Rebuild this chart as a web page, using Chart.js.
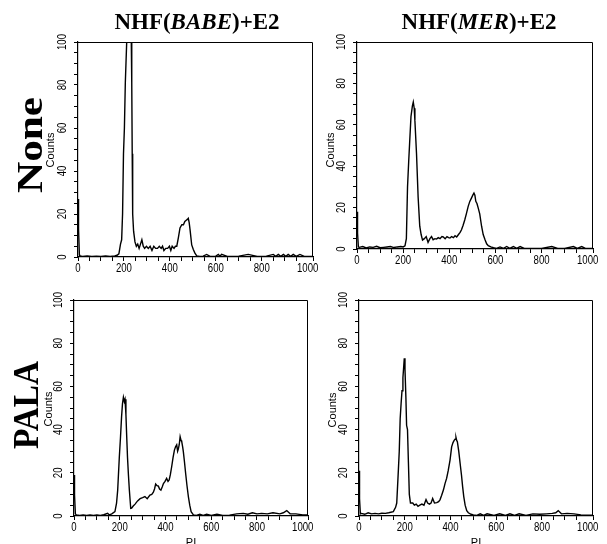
<!DOCTYPE html>
<html lang="en">

<head>
    <meta charset="UTF-8">
    <script src="https://cdn.jsdelivr.net/npm/chart.js"></script>
    <title>DNA content histograms</title>
    <style>
        body {
            margin: 0;
            background: #fff;
        }

        #figure {
            position: relative;
            width: 607px;
            height: 544px;
            overflow: hidden;
            background: #fff;
        }

        canvas {
            position: absolute;
        }

        /* chart area + 30px on the left, 10px on top, 8px on the right, 22px below */
        #chart_babe_none { left: 48px; top: 32px; }
        #chart_mer_none { left: 327px; top: 32px; }
        #chart_babe_pala { left: 44px; top: 290px; }
        #chart_mer_pala { left: 329px; top: 290px; }

        .title {
            position: absolute;
            top: 10px;
            font: bold 23px 'Liberation Serif', serif;
            line-height: 1;
            white-space: nowrap;
            transform: translateX(-50%);
        }

        .rotated {
            position: absolute;
            line-height: 1;
            white-space: nowrap;
        }

        .row_label {
            font: bold 36px 'Liberation Serif', serif;
        }

        .counts {
            font: 11px 'Liberation Sans', sans-serif;
        }

        .pi {
            position: absolute;
            top: 537px;
            font: 11px 'Liberation Sans', sans-serif;
            line-height: 1;
            transform: translateX(-50%);
        }
    </style>
</head>

<body>
    <div id="figure">
        <canvas id="chart_babe_none" width="273" height="247"></canvas>
        <canvas id="chart_mer_none" width="274" height="239"></canvas>
        <canvas id="chart_babe_pala" width="272" height="248"></canvas>
        <canvas id="chart_mer_pala" width="272" height="248"></canvas>

        <div class="title" style="left:197px">NHF(<i>BABE</i>)+E2</div>
        <div class="title" style="left:479px">NHF(<i>MER</i>)+E2</div>

        <div class="rotated row_label" style="left:30px;top:145px;transform:translate(-50%,-50%) rotate(-90deg) scaleX(1.2)">None</div>
        <div class="rotated row_label" style="left:27px;top:405px;font-size:35px;transform:translate(-50%,-50%) rotate(-90deg) scaleX(0.95)">PALA</div>

        <div class="rotated counts" style="left:50px;top:150px;transform:translate(-50%,-50%) rotate(-90deg)">Counts</div>
        <div class="rotated counts" style="left:330px;top:150px;transform:translate(-50%,-50%) rotate(-90deg)">Counts</div>
        <div class="rotated counts" style="left:48px;top:409px;transform:translate(-50%,-50%) rotate(-90deg)">Counts</div>
        <div class="rotated counts" style="left:332px;top:410px;transform:translate(-50%,-50%) rotate(-90deg)">Counts</div>

        <div class="pi" style="left:191px">PI</div>
        <div class="pi" style="left:476px">PI</div>
    </div>

    <script>
        // Tick labels shared by the four histograms
        const x_tick_labels = [0, 200, 400, 600, 800, 1000];
        const y_tick_labels = [0, 20, 40, 60, 80, 100];

        // NHF(BABE)+E2, no drug
        const babe_none_channels = [
            0, 1, 2, 4, 6, 8, 20, 40, 60, 80,
            100, 120, 140, 160, 170, 178, 185, 190, 194, 198,
            202, 206, 212, 218, 226, 232, 234, 236, 238, 242,
            248, 254, 260, 266, 272, 278, 284, 290, 298, 306,
            314, 322, 330, 338, 346, 354, 362, 368, 374, 382,
            390, 398, 404, 410, 418, 424, 430, 437, 444, 452,
            459, 465, 470, 476, 480, 484, 488, 495, 502, 509,
            517, 530, 545, 560, 575, 600, 611, 618, 625, 650,
            700, 741, 780, 820, 850, 861, 872, 883, 894, 905,
            915, 926, 937, 950, 966, 985, 1005, 1023];
        const babe_none_counts = [
            27, 13, 13, 13, 1, 0.5, 0.3, 0.5, 0.3, 0.4,
            0.3, 0.5, 0.3, 0.5, 0.8, 1.5, 6, 8, 20, 48,
            60, 81, 100, 110, 112, 100, 81, 48, 20, 12,
            7, 5, 6, 4, 6, 8, 5, 4, 5, 4,
            5, 3, 5, 4, 4, 5, 4, 5, 3, 4,
            4, 5, 3, 5, 4, 5, 5, 9, 13.5, 15,
            15, 16.5, 17, 17.5, 18, 16, 12.5, 5.6, 3.5, 1.8,
            0.5, 0.3, 0.4, 1.2, 0.3, 0.4, 1.2, 0.4, 1.2, 0.3,
            0.4, 1.2, 0.3, 0.4, 1.2, 0.3, 1.2, 0.3, 1.2, 0.3,
            1.2, 0.3, 1.2, 0.3, 1.2, 0.3, 0.3, 0.3];

        // NHF(MER)+E2, no drug
        const mer_none_channels = [
            0, 1, 2, 4, 6, 10, 25, 40, 55, 70,
            85, 100, 115, 130, 145, 160, 175, 190, 200, 208,
            214, 219, 224, 228, 234, 240, 244, 248, 251, 258,
            265, 272, 278, 284, 292, 300, 308, 316, 323, 330,
            338, 345, 352, 360, 368, 374, 382, 390, 397, 403,
            410, 418, 425, 432, 440, 447, 453, 460, 467, 474,
            482, 489, 496, 502, 507, 511, 515, 520, 525, 532,
            540, 547, 555, 562, 569, 580, 592, 605, 620, 635,
            649, 662, 678, 692, 707, 725, 760, 800, 844, 870,
            900, 938, 955, 974, 990, 1010, 1023];
        const mer_none_counts = [
            18, 7.7, 7.7, 7.7, 1, 0.8, 1.2, 0.5, 1, 0.8,
            1.3, 0.6, 0.8, 1, 1.2, 0.7, 1, 1.2, 1, 1.5,
            5, 30, 42, 51, 64, 69, 71, 68, 62, 46,
            25, 11, 7, 4.3, 5, 6, 3.2, 5, 6, 4.5,
            5, 4.8, 5.5, 5, 6, 5.8, 5, 6, 5.5, 5.3,
            6, 5.5, 6.4, 5.8, 7, 8, 9.3, 11.5, 14, 17,
            20.6, 23, 24.6, 26, 27, 26, 23, 22, 20, 17,
            11, 7, 4.5, 2.5, 1.6, 1, 0.6, 0.3, 1, 0.3,
            1.2, 0.3, 1.2, 0.3, 1.2, 0.3, 0.3, 0.3, 1.2, 0.3,
            0.3, 1.2, 0.3, 1.2, 0.3, 0.3, 0.3];

        // NHF(BABE)+E2, PALA
        const babe_pala_channels = [
            0, 1, 2, 4, 6, 10, 25, 40, 55, 70,
            85, 100, 115, 130, 147, 155, 165, 179, 186, 191,
            198, 203, 208, 212, 216, 220, 223, 227, 230, 234,
            238, 242, 248, 252, 258, 267, 278, 289, 300, 310,
            320, 332, 340, 347, 352, 357, 363, 369, 374, 380,
            386, 391, 398, 405, 411, 416, 421, 427, 433, 439,
            444, 449, 453, 456, 460, 464, 468, 471, 475, 478,
            483, 488, 494, 500, 506, 512, 522, 535, 550, 565,
            580, 600, 625, 650, 680, 711, 740, 760, 780, 800,
            820, 845, 870, 900, 915, 930, 945, 970, 1000, 1023];
        const babe_pala_counts = [
            19, 9.7, 9.7, 9.7, 1, 0.5, 0.3, 0.5, 0.3, 0.5,
            0.3, 0.5, 0.3, 0.6, 1.2, 0.5, 1, 2, 6, 12,
            27, 36, 46, 52, 55, 53, 54, 47, 38, 27,
            19, 12, 3.5, 3.6, 4.5, 5.5, 7, 8, 8.5, 9,
            8, 9.7, 10, 11, 12.5, 14.8, 14, 13.8, 12.5, 12,
            13.5, 15, 16, 17.4, 16, 16.7, 19, 22.8, 27, 30.5,
            32, 32.9, 30, 31, 33, 36.7, 35, 34.4, 32, 29.8,
            25, 19.8, 14, 9, 5, 2, 0.5, 0.3, 0.8, 0.3,
            0.8, 0.3, 0.8, 0.3, 0.4, 1, 1.2, 0.8, 1.5, 1,
            1.2, 1, 1.5, 1, 1.5, 2.5, 1, 1, 0.5, 0.5];

        // NHF(MER)+E2, PALA
        const mer_pala_channels = [
            0, 1, 2, 4, 6, 10, 25, 40, 55, 70,
            85, 100, 115, 130, 150, 160, 165, 172, 176, 180,
            184, 188, 192, 196, 198, 201, 205, 208, 212, 216,
            220, 225, 235, 242, 250, 258, 266, 275, 284, 293,
            300, 308, 315, 322, 330, 340, 348, 354, 361, 369,
            376, 383, 390, 398, 405, 411, 416, 420, 424, 427,
            430, 436, 442, 448, 453, 458, 464, 471, 478, 490,
            500, 515, 530, 545, 560, 590, 615, 640, 660, 680,
            700, 730, 760, 790, 820, 845, 860, 871, 885, 910,
            940, 970, 1000, 1023];
        const mer_pala_counts = [
            21, 8, 8, 8, 1, 1.2, 0.8, 1.5, 1, 1.2,
            1, 1.3, 1.2, 1.5, 2, 4, 6, 21, 30, 45,
            52, 58, 64, 70, 73, 68, 55, 42, 40, 25,
            10, 6, 6, 5, 5.5, 4.5, 5, 5.5, 5, 7.6,
            6, 5.5, 6, 8.1, 6, 6.2, 6.6, 7.5, 9.5, 12,
            15, 17.4, 21, 25.9, 32, 34, 35, 35.5, 36.4, 35,
            34.4, 30, 24.4, 19, 13.6, 9, 5, 2.5, 1.5, 0.8,
            0.5, 0.3, 1, 0.3, 1, 0.3, 1, 0.3, 1, 0.3,
            1, 0.3, 1, 0.8, 1, 1.2, 1.5, 2.5, 1, 1.2,
            1, 0.5, 0.4, 0.4];

        // Frame on top/right plus the narrow, rotated tick labels
        const frame_and_labels = {
            id: 'frame_and_labels',
            afterDraw(chart) {
                const ctx = chart.ctx;
                const area = chart.chartArea;
                const x_scale = chart.scales.x, y_scale = chart.scales.y;

                ctx.save();
                ctx.strokeStyle = '#000';
                ctx.lineWidth = 1;
                ctx.beginPath();
                ctx.moveTo(area.left, area.top + 0.5);
                ctx.lineTo(area.right - 0.5, area.top + 0.5);
                ctx.lineTo(area.right - 0.5, area.bottom);
                ctx.stroke();

                ctx.fillStyle = '#000';
                ctx.font = '13px "Liberation Sans", Arial, sans-serif';
                ctx.textAlign = 'center';
                ctx.textBaseline = 'middle';

                x_tick_labels.forEach(v => {
                    ctx.save();
                    ctx.translate(x_scale.getPixelForValue(v), area.bottom + 11.5);
                    ctx.scale(0.74, 1);
                    ctx.fillText(String(v), 0, 0);
                    ctx.restore();
                });

                y_tick_labels.forEach(v => {
                    ctx.save();
                    ctx.translate(area.left - 16, y_scale.getPixelForValue(v));
                    ctx.rotate(-Math.PI / 2);
                    ctx.scale(0.74, 1);
                    ctx.fillText(String(v), 0, 0);
                    ctx.restore();
                });
                ctx.restore();
            }
        };

        function make_histogram(canvas_id, channels, counts) {
            const points = channels.map((c, i) => ({ x: c, y: counts[i] }));
            const axis_grid = {
                display: true,
                drawOnChartArea: false,
                drawTicks: true,
                tickLength: 4,
                color: '#000',
                lineWidth: 1
            };
            return new Chart(document.getElementById(canvas_id), {
                type: 'line',
                data: {
                    datasets: [{
                        data: points,
                        borderColor: '#000',
                        borderWidth: 1.4,
                        pointRadius: 0,
                        tension: 0,
                        fill: false
                    }]
                },
                options: {
                    responsive: false,
                    animation: false,
                    devicePixelRatio: 1,
                    layout: { padding: { top: 10, right: 8, left: 0, bottom: 0 } },
                    plugins: { legend: { display: false }, tooltip: { enabled: false } },
                    scales: {
                        x: {
                            type: 'linear',
                            min: 0,
                            max: 1023,
                            ticks: { display: false, stepSize: 50, autoSkip: false },
                            grid: axis_grid,
                            border: { display: true, color: '#000', width: 1.2 },
                            afterFit(scale) { scale.height = 22; }
                        },
                        y: {
                            min: 0,
                            max: 100,
                            ticks: { display: false, stepSize: 5, autoSkip: false },
                            grid: axis_grid,
                            border: { display: true, color: '#000', width: 1.2 },
                            afterFit(scale) { scale.width = 30; }
                        }
                    }
                },
                plugins: [frame_and_labels]
            });
        }

        make_histogram('chart_babe_none', babe_none_channels, babe_none_counts);
        make_histogram('chart_mer_none', mer_none_channels, mer_none_counts);
        make_histogram('chart_babe_pala', babe_pala_channels, babe_pala_counts);
        make_histogram('chart_mer_pala', mer_pala_channels, mer_pala_counts);
    </script>
</body>

</html>
